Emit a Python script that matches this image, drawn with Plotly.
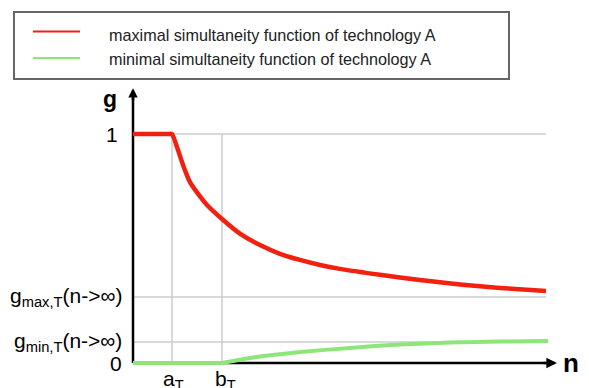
import plotly.graph_objects as go

# ---------------- data ----------------
n_max = [0, 3.5, 3.9, 4.4, 5.0, 5.7, 6.4, 7.4, 8.9, 10.7, 12.7, 14.7, 16.7, 18.7, 20.7, 24.7, 28.7, 32.7, 36.7, 41.3]
g_max = [1, 1, 1, 0.943, 0.865, 0.79, 0.745, 0.69, 0.629, 0.565, 0.515, 0.477, 0.45, 0.428, 0.411, 0.385, 0.362, 0.343, 0.328, 0.314]

n_min = [0, 8.5, 8.9, 11.7, 16.7, 21.7, 26.7, 31.7, 36.7, 41.5]
g_min = [0, 0, 0, 0.022, 0.048, 0.066, 0.081, 0.089, 0.094, 0.096]

a_T = 3.9
b_T = 8.9
n_end = 41.3
n_axis_end = 42.4
g_axis_end = 1.2
g_max_inf = 0.288
g_min_inf = 0.092

y_tick_vals = [1, g_max_inf, g_min_inf, 0]
y_tick_text = ["1", "g<sub>max,T</sub>(n->∞)", "g<sub>min,T</sub>(n->∞)", "0"]
x_tick_vals = [a_T, b_T]
x_tick_text = ["a<sub>T</sub>", "b<sub>T</sub>"]

legend_names = ["maximal simultaneity function of technology A",
                "minimal simultaneity function of technology A"]

RED = "#f2200f"
GREEN = "#8ce67a"
GRID = "#cccccc"
FONT = "Liberation Sans, Arial, sans-serif"

W, H = 589, 388
L, R, T, B = 128, 575, 85, 370

def px(x):  # pixel -> paper x
    return (x - L) / (R - L)

def py(y):  # pixel -> paper y
    return (B - y) / (B - T)

fig = go.Figure()

# axis lines (under the curves)
fig.add_trace(go.Scatter(x=[0, n_axis_end - 1.0], y=[0, 0], mode="lines",
                         line=dict(color="black", width=2.5), hoverinfo="skip", showlegend=False))
fig.add_trace(go.Scatter(x=[0, 0], y=[0, g_axis_end - 0.04], mode="lines",
                         line=dict(color="black", width=2.5), hoverinfo="skip", showlegend=False))

fig.add_trace(go.Scatter(x=n_max, y=g_max, mode="lines", name=legend_names[0],
                         line=dict(color=RED, width=4.5, shape="spline", smoothing=0.5),
                         showlegend=False))
fig.add_trace(go.Scatter(x=n_min, y=g_min, mode="lines", name=legend_names[1],
                         line=dict(color=GREEN, width=4, shape="spline", smoothing=0.5),
                         showlegend=False))

shapes = []
# grid lines
for v in [1, g_max_inf, g_min_inf]:
    shapes.append(dict(type="line", xref="x", yref="y", x0=0, x1=n_end, y0=v, y1=v,
                       line=dict(color=GRID, width=1.5), layer="below"))
for v in x_tick_vals:
    shapes.append(dict(type="line", xref="x", yref="y", x0=v, x1=v, y0=0, y1=1,
                       line=dict(color=GRID, width=1.5), layer="below"))

# legend box
shapes.append(dict(type="rect", xref="paper", yref="paper",
                   x0=px(14), x1=px(509), y0=py(79), y1=py(12),
                   line=dict(color="#666666", width=2), fillcolor="white", layer="below"))
shapes.append(dict(type="line", xref="paper", yref="paper", x0=px(33), x1=px(80), y0=py(31.5), y1=py(31.5),
                   line=dict(color=RED, width=2)))
shapes.append(dict(type="line", xref="paper", yref="paper", x0=px(33), x1=px(80), y0=py(58), y1=py(58),
                   line=dict(color=GREEN, width=2)))

ann = []
# legend text
for name, yy in zip(legend_names, [35, 59]):
    ann.append(dict(xref="paper", yref="paper", x=px(107), y=py(yy), xanchor="left", yanchor="middle",
                    text=name, showarrow=False, font=dict(family=FONT, size=16.2, color="#222222")))

# y labels
for v, t in zip(y_tick_vals, y_tick_text):
    ann.append(dict(xref="x", yref="y", x=0, y=v, xanchor="right", yanchor="middle",
                    xshift=-9 if t != "1" else -13, text=t, showarrow=False,
                    font=dict(family=FONT, size=21, color="black")))
# x labels
for v, t in zip(x_tick_vals, x_tick_text):
    ann.append(dict(xref="x", yref="y", x=v, y=0, xanchor="center", yanchor="top",
                    yshift=-2, xshift=3 if t.startswith("b") else 1, text=t, showarrow=False,
                    font=dict(family=FONT, size=21, color="black")))

# axis names
ann.append(dict(xref="x", yref="y", x=0, y=g_axis_end, xanchor="right", yanchor="top",
                xshift=-14, yshift=4, text="<b>g</b>", showarrow=False,
                font=dict(family=FONT, size=23, color="black")))
ann.append(dict(xref="x", yref="y", x=n_axis_end, y=0, xanchor="left", yanchor="middle",
                xshift=4, yshift=0, text="<b>n</b>", showarrow=False,
                font=dict(family=FONT, size=26, color="black")))

# arrow heads
ann.append(dict(xref="x", yref="y", axref="x", ayref="y", x=n_axis_end, y=0, ax=n_axis_end - 1.5, ay=0,
                text="", showarrow=True, arrowhead=2, arrowsize=0.85, arrowwidth=2.5, arrowcolor="black"))
ann.append(dict(xref="x", yref="y", axref="x", ayref="y", x=0, y=g_axis_end, ax=0, ay=g_axis_end - 0.06,
                text="", showarrow=True, arrowhead=2, arrowsize=0.75, arrowwidth=2.5, arrowcolor="black"))

x0 = -(133 - L) / 10.0
x1 = x0 + (R - L) / 10.0
y1 = (363 - T) / 229.0
y0 = -(B - 363) / 229.0

fig.update_layout(
    width=W, height=H,
    margin=dict(l=L, r=W - R, t=T, b=H - B, pad=0),
    paper_bgcolor="white", plot_bgcolor="white",
    xaxis=dict(range=[x0, x1], visible=False, fixedrange=True),
    yaxis=dict(range=[y0, y1], visible=False, fixedrange=True),
    shapes=shapes, annotations=ann, showlegend=False,
    font=dict(family=FONT),
)

fig.write_html("out.html", config={"displayModeBar": False},
               post_script="document.body.style.margin='0';")
